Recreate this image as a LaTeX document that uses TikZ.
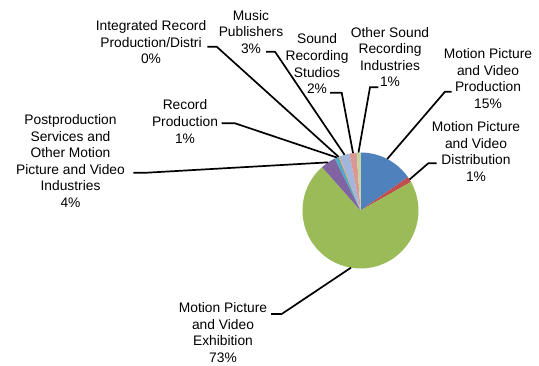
\documentclass[tikz,border=0pt]{standalone}
\usepackage{fontspec}
\setmainfont{Liberation Sans}
\definecolor{cBlue}{HTML}{4F81BD}
\definecolor{cRed}{HTML}{C0504D}
\definecolor{cGreen}{HTML}{9BBB59}
\definecolor{cPurple}{HTML}{8064A2}
\definecolor{cTeal}{HTML}{4BACC6}
\definecolor{cOrange}{HTML}{F79646}
\definecolor{cLBlue}{HTML}{A2B6DC}
\definecolor{cPink}{HTML}{D99795}
\definecolor{cLGreen}{HTML}{C4D79B}
\tikzset{
  lbl/.style={align=center, inner sep=0pt, font=\fontsize{13.8}{16.6}\selectfont},
  leader/.style={draw=black, line width=1.7pt},
}
\newcommand{\pieslice}[3]{\fill[#1] (C) -- ++(#2:58pt) arc[start angle=#2, end angle=#3, radius=58pt] -- cycle;}
\begin{document}
\begin{tikzpicture}[x=1pt,y=1pt]
\useasboundingbox (0,0) rectangle (539,365);
\fill[white] (0,0) rectangle (539,365);
\coordinate (C) at (360.5,154.5);
% slices, clockwise from top
\pieslice{cBlue}{90}{35.2}
\pieslice{cRed}{35.2}{29.5}
\pieslice{cGreen}{29.5}{-228.5}
\pieslice{cPurple}{-228.5}{-243.7}
\pieslice{cTeal}{-243.7}{-247.7}
\pieslice{cOrange}{-247.7}{-248.7}
\pieslice{cLBlue}{-248.7}{-259}
\pieslice{cPink}{-259}{-266.2}
\pieslice{cLGreen}{-266.2}{-270}
% leader ends on the pie
\path (C) ++(62.6:58pt) coordinate (eProd);
\path (C) ++(32.3:58pt) coordinate (eDist);
\path (C) ++(-99.5:58pt) coordinate (eExh);
\path (C) ++(123.9:58pt) coordinate (ePost);
\path (C) ++(114:58pt) coordinate (eRec);
\path (C) ++(112.2:58pt) coordinate (eInt);
\path (C) ++(106:58pt) coordinate (eMus);
\path (C) ++(97.4:58pt) coordinate (eSnd);
\path (C) ++(92:58pt) coordinate (eOth);
% labels
\node[lbl] (lInt) at (151,322.8) {Integrated Record\\Production/Distri\\0\%};
\node[lbl] (lMus) at (251,333.3) {Music\\Publishers\\3\%};
\node[lbl] (lSnd) at (317,301.2) {Sound\\Recording\\Studios\\2\%};
\node[lbl] (lOth) at (390,308) {Other Sound\\Recording\\Industries\\1\%};
\node[lbl] (lProd) at (488,286.5) {Motion Picture\\and Video\\Production\\15\%};
\node[lbl] (lDist) at (476,213.3) {Motion Picture\\and Video\\Distribution\\1\%};
\node[lbl] (lRec) at (185,243.5) {Record\\Production\\1\%};
\node[lbl] (lPost) at (70.5,204) {Postproduction\\Services and\\Other Motion\\Picture and Video\\Industries\\4\%};
\node[lbl] (lExh) at (223,32.5) {Motion Picture\\and Video\\Exhibition\\73\%};
% leader elbows
\coordinate (sInt) at (207.3,318.3); \coordinate (kInt) at (216.7,318.3);
\coordinate (sMus) at (266,313.3);   \coordinate (kMus) at (275,313.3);
\coordinate (sSnd) at (330,272.3);   \coordinate (kSnd) at (341.7,272.3);
\coordinate (sOth) at (378.3,277.7); \coordinate (kOth) at (370,277.7);
\coordinate (sProd) at (451.7,273.3); \coordinate (kProd) at (445,273.3);
\coordinate (sDist) at (436.7,201.7); \coordinate (kDist) at (428.3,201.7);
\coordinate (sRec) at (221.7,241.7); \coordinate (kRec) at (235,241.7);
\coordinate (sPost) at (133.3,192.3); \coordinate (kPost) at (146.7,192.3);
\coordinate (sExh) at (271,51);      \coordinate (kExh) at (281.7,51);
% leaders
\draw[leader] (sInt) -- (kInt) -- (eInt);
\draw[leader] (sMus) -- (kMus) -- (eMus);
\draw[leader] (sSnd) -- (kSnd) -- (eSnd);
\draw[leader] (sOth) -- (kOth) -- (eOth);
\draw[leader] (sProd) -- (kProd) -- (eProd);
\draw[leader] (sDist) -- (kDist) -- (eDist);
\draw[leader] (sRec) -- (kRec) -- (eRec);
\draw[leader] (sPost) -- (kPost) -- (ePost);
\draw[leader] (sExh) -- (kExh) -- (eExh);
\end{tikzpicture}
\end{document}
